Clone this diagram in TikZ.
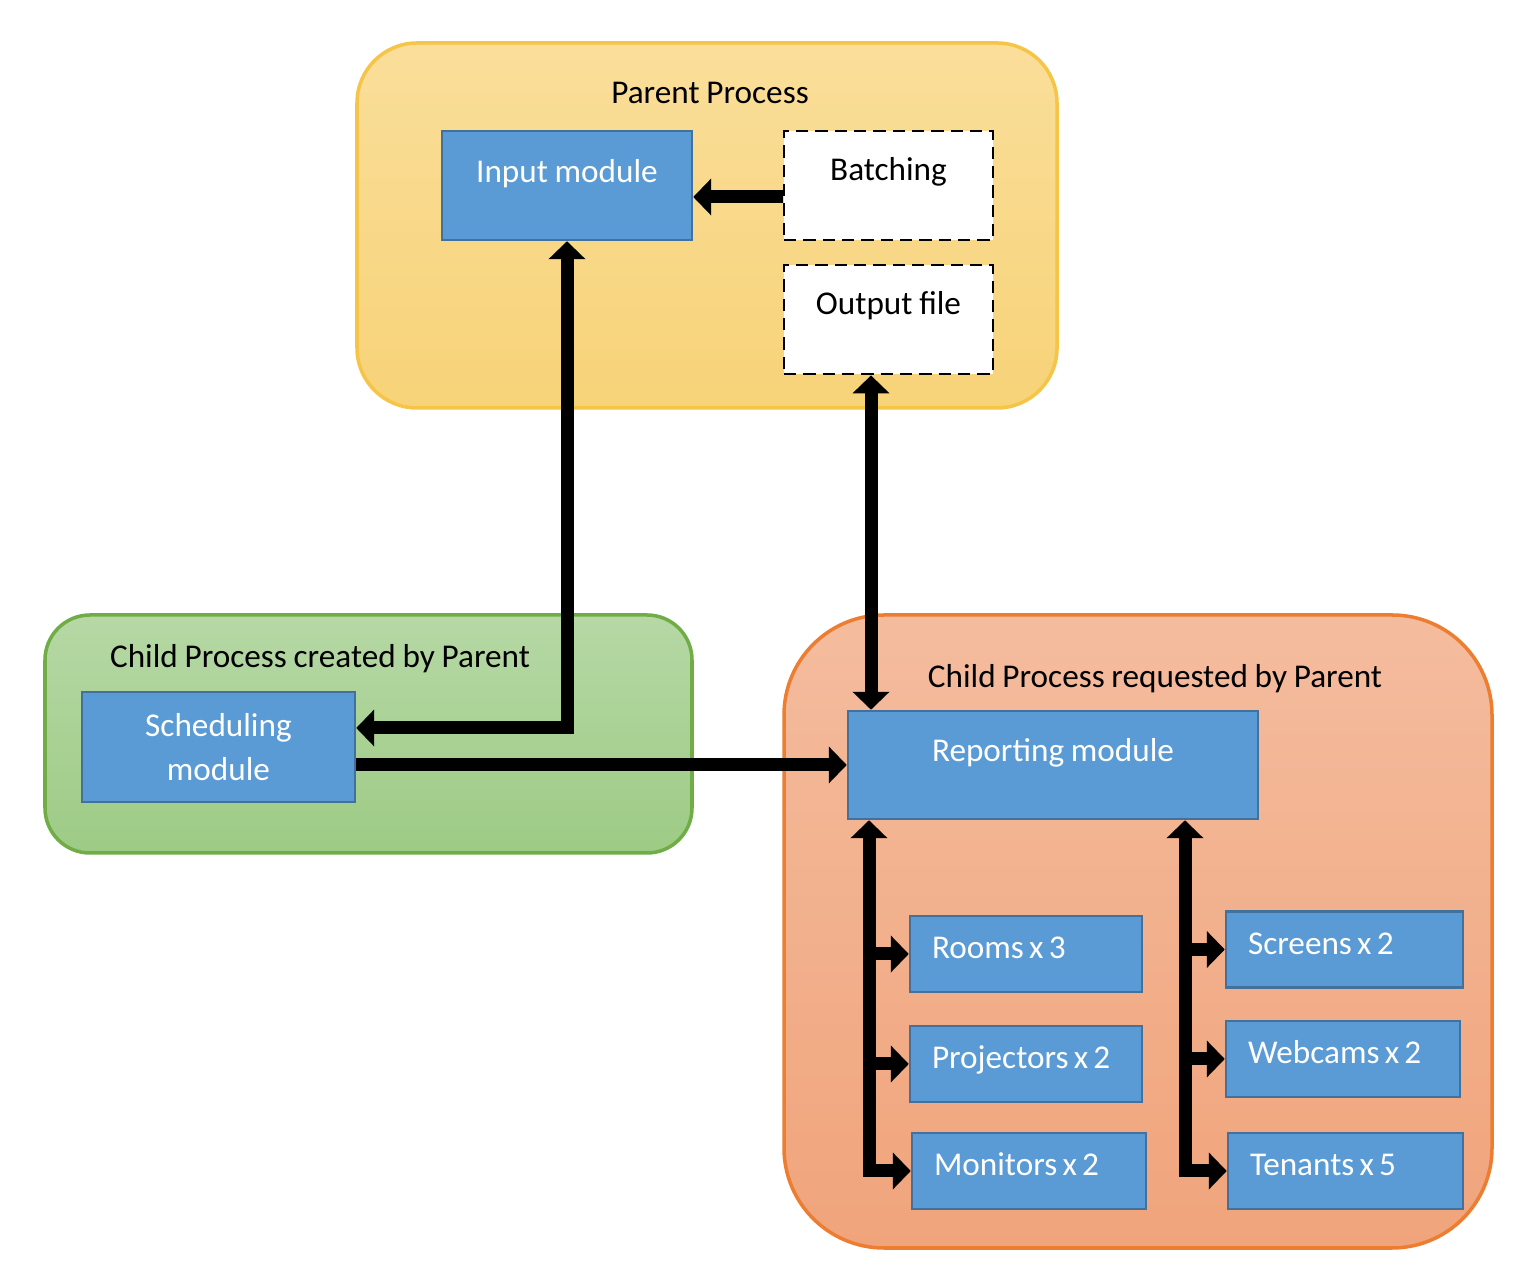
\documentclass[tikz,border=0pt]{standalone}
\usepackage{fontspec}
\setmainfont{Carlito}[WordSpace=0.9]
\newfontfamily\itemfont{Carlito}[WordSpace=0.7]
\usetikzlibrary{arrows.meta,positioning,shapes}

\definecolor{modfill}{RGB}{91,155,213}
\definecolor{modline}{RGB}{65,113,156}
\definecolor{parenttop}{RGB}{250,222,154}
\definecolor{parentbot}{RGB}{247,211,120}
\definecolor{parentline}{RGB}{246,196,70}
\definecolor{createdtop}{RGB}{182,216,165}
\definecolor{createdbot}{RGB}{157,203,133}
\definecolor{createdline}{RGB}{112,173,71}
\definecolor{requestedtop}{RGB}{244,188,158}
\definecolor{requestedbot}{RGB}{240,164,123}
\definecolor{requestedline}{RGB}{237,125,49}

\tikzset{
  procbox/.style={rectangle, line width=1pt, inner sep=0pt},
  module/.style={rectangle, draw=modline, fill=modfill, text=white, line width=0.7pt, inner sep=0pt},
  modtop/.style={module, text height=0.25cm, text depth=0.31cm},
  itembox/.style={module, align=left, inner xsep=0.22cm, inner ysep=0pt, text height=0.3cm, text depth=0.2cm,
                  font=\fontsize{9.45}{12.5}\itemfont},
  filebox/.style={rectangle, draw=black, fill=white, dash pattern=on 3.5pt off 2pt, line width=0.8pt, inner sep=0pt, text height=0.25cm, text depth=0.34cm},
  flow/.style={line width=0.13cm, >={Triangle[width=0.36cm,length=0.18cm]}}
}

\begin{document}
\begin{tikzpicture}[every node/.style={font=\fontsize{9.45}{12.5}\selectfont}]

\useasboundingbox (0,0) rectangle (15.18,-12.8);

%% process containers
\node[procbox, draw=parentline, top color=parenttop, bottom color=parentbot, rounded corners=0.6cm,
      minimum width=7.00cm, minimum height=3.65cm] (parent) at (7.07,-2.255) {};
\node[procbox, draw=createdline, top color=createdtop, bottom color=createdbot, rounded corners=0.45cm,
      minimum width=6.47cm, minimum height=2.38cm] (created) at (3.685,-7.34) {};
\node[procbox, draw=requestedline, top color=requestedtop, bottom color=requestedbot, rounded corners=1.0cm,
      minimum width=7.08cm, minimum height=6.33cm] (requested) at (11.38,-9.315) {};

\node[anchor=base] (parenttitle) at (7.10,-1.04) {Parent Process};
\node[anchor=base] (createdtitle) at (3.20,-6.68) {Child Process created by Parent};
\node[anchor=base] (requestedtitle) at (11.55,-6.88) {Child Process requested by Parent};

%% parent process
\node[modtop, minimum width=2.50cm, minimum height=1.09cm] (input) at (5.67,-1.855) {Input module};
\node[filebox, minimum width=2.09cm, minimum height=1.09cm] (batch) at (8.885,-1.855) {Batching};
\node[filebox, minimum width=2.09cm, minimum height=1.09cm] (output) at (8.885,-3.195) {Output file};

%% child processes
\node[module, align=center, minimum width=2.73cm, minimum height=1.10cm] (sched) at (2.185,-7.47) {Scheduling\\module};
\node[modtop, minimum width=4.10cm, minimum height=1.08cm] (report) at (10.53,-7.65) {Reporting module};

\foreach \nm/\txt/\cx/\cy/\w in {rooms/{Rooms x 3}/10.26/-9.54/2.32,
  projectors/{Projectors x 2}/10.26/-10.64/2.32,
  monitors/{Monitors x 2}/10.29/-11.71/2.34,
  screens/{Screens x 2}/13.445/-9.495/2.37,
  webcams/{Webcams x 2}/13.43/-10.59/2.34,
  tenants/{Tenants x 5}/13.455/-11.71/2.35}
{
  \pgfmathsetmacro\tw{\w-0.44}
  \node[itembox, text width=\tw cm, minimum height=0.76cm] (\nm) at (\cx,\cy) {\spaceskip=0pt\xspaceskip=0pt\mbox{\txt}};
}

%% connectors
\coordinate (obus) at (8.71,0);
\coordinate (lbus) at (8.69,0);
\coordinate (rbus) at (11.85,0);

\draw[flow,->] ([yshift=-0.115cm]batch.west) -- ([yshift=-0.115cm]batch.west -| input.east);
\draw[flow,<->] (input.south) |- ([yshift=0.19cm]sched.east);
\draw[flow,->] (sched.east |- report.west) -- (report.west);
\draw[flow,<->] (output.south -| obus) -- (report.north -| obus);

\draw[flow,<->] (report.south -| lbus) |- (monitors.west);
\foreach \nm in {rooms,projectors}
  \draw[flow,->] (lbus |- \nm.west) -- (\nm.west);

\draw[flow,<->] (report.south -| rbus) |- (tenants.west);
\foreach \nm in {screens,webcams}
  \draw[flow,->] (rbus |- \nm.west) -- (\nm.west);

\end{tikzpicture}
\end{document}
